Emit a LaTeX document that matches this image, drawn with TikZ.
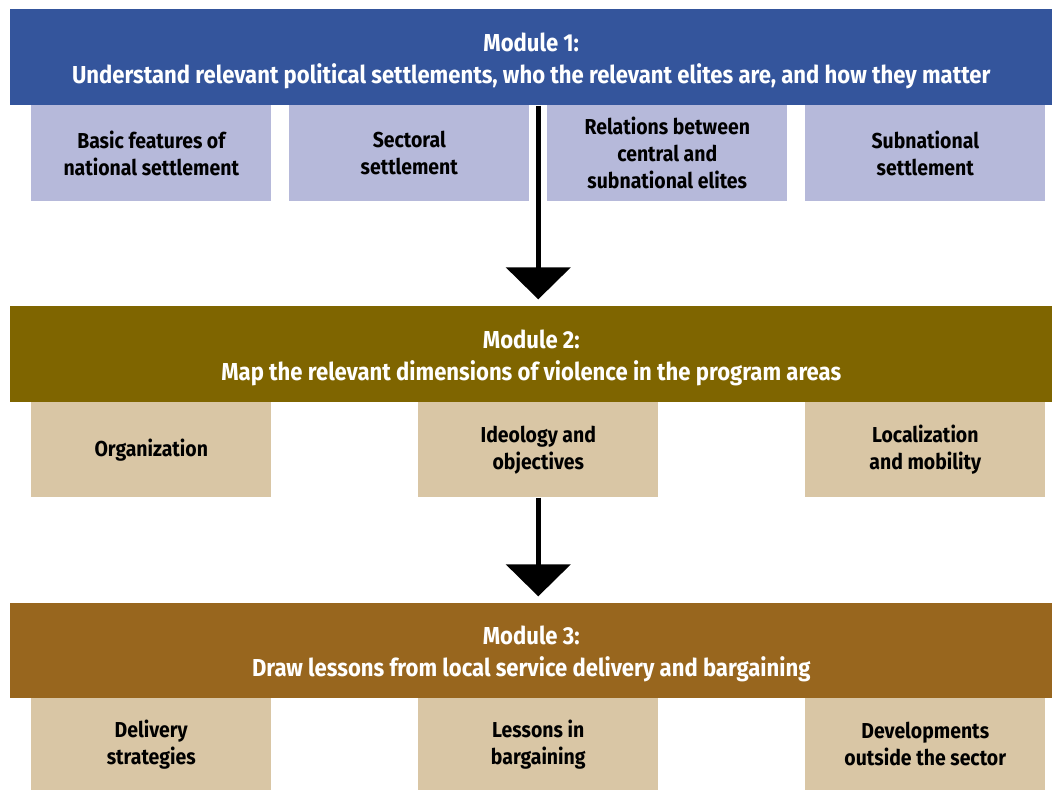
\documentclass[tikz,border=0pt]{standalone}
\usepackage{fontspec}
\setmainfont{Fira Sans}[FakeStretch=0.9]
\usetikzlibrary{arrows.meta,calc}
\definecolor{modblue}{HTML}{34559C}
\definecolor{subblue}{HTML}{B6B9DA}
\definecolor{modolive}{HTML}{7F6500}
\definecolor{modbrown}{HTML}{98661E}
\definecolor{subtan}{HTML}{D9C6A5}
% taller first line pushes the two-line module titles slightly down
\newcommand{\titlestrut}{\rule{0pt}{19pt}}
\begin{document}
\begin{tikzpicture}[x=0.75pt,y=-0.75pt,
  header/.style={fill=#1, draw=none, text=white, anchor=north west,
    minimum width=781.5pt, inner sep=0pt, align=center,
    font=\fontsize{18.4}{24}\selectfont\bfseries},
  subbox/.style={fill=#1, draw=none, text=black, anchor=north west,
    minimum width=180pt, inner sep=0pt, align=center,
    font=\fontsize{16.2}{20.25}\selectfont\bfseries},
  flow/.style={draw=black, line width=3.75pt,
    -{Triangle[width=48pt,length=24pt]}, shorten >=5pt}]
\useasboundingbox (0,0) rectangle (1052,790);

% Module 1
\node[header=modblue, minimum height=72pt] (h1) at (10,9)
  {\titlestrut Module 1:\\Understand relevant political settlements, who the relevant elites are, and how they matter};
\node[subbox=subblue, minimum height=72pt] (a1) at (31,105) {Basic features of\\national settlement};
\node[subbox=subblue, minimum height=72pt] (a2) at (289,105) {Sectoral\\settlement};
\node[subbox=subblue, minimum height=72pt] (a3) at (547,105) {Relations between\\central and\\subnational elites};
\node[subbox=subblue, minimum height=72pt] (a4) at (805,105) {Subnational\\settlement};

% Module 2
\node[header=modolive, minimum height=72pt] (h2) at (10,306)
  {\titlestrut Module 2:\\Map the relevant dimensions of violence in the program areas};
\node[subbox=subtan, minimum height=71.25pt] (b1) at (31,402) {\rule{0pt}{14pt}Organization};
\node[subbox=subtan, minimum height=71.25pt] (b2) at (418,402) {Ideology and\\objectives};
\node[subbox=subtan, minimum height=71.25pt] (b3) at (805,402) {Localization\\and mobility};

% Module 3
\node[header=modbrown, minimum height=71.25pt] (h3) at (10,603)
  {\titlestrut Module 3:\\Draw lessons from local service delivery and bargaining};
\node[subbox=subtan, minimum height=69pt] (c1) at (31,698) {Delivery\\strategies};
\node[subbox=subtan, minimum height=69pt] (c2) at (418,698) {Lessons in\\bargaining};
\node[subbox=subtan, minimum height=69pt] (c3) at (805,698) {Developments\\outside the sector};

% Flow between modules
\coordinate (gap) at ($(a2.east)!0.5!(a3.west)$);
\draw[flow] (h1.south -| gap) -- (h2.north -| gap);
\draw[flow] (b2.south) -- (h3.north -| b2.south);
\end{tikzpicture}
\end{document}
